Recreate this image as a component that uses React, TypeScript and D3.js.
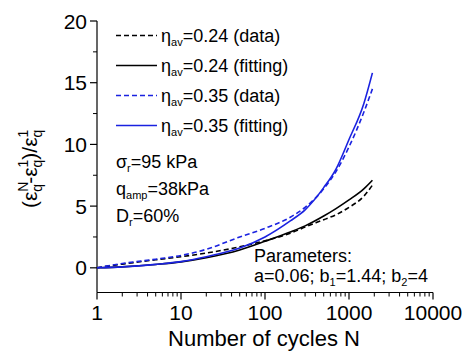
import React from "react";
import * as d3 from "d3";

const cycles = [1, 2, 5, 10, 20, 50, 100, 200, 300, 500, 700, 1000, 1500, 1900];
const blackData = [0, 0.3, 0.65, 0.9, 1.2, 1.7, 2.2, 2.8, 3.3, 3.9, 4.3, 4.9, 5.8, 6.7];
const blackFit = [0, 0.08, 0.27, 0.48, 0.82, 1.45, 2.15, 2.9, 3.4, 4.2, 4.8, 5.5, 6.4, 7.1];
const blueData = [0, 0.35, 0.7, 1.0, 1.5, 2.5, 3.2, 4.1, 4.9, 6.4, 7.8, 9.8, 12.6, 14.5];
const blueFit = [0, 0.08, 0.28, 0.5, 0.9, 1.6, 2.5, 3.8, 4.7, 6.5, 8.0, 10.4, 13.3, 15.8];

const yMajor = [0, 5, 10, 15, 20];
const yMinor = [2.5, 7.5, 12.5, 17.5];
const xMajor = [1, 10, 100, 1000, 10000];
const xMajorLabels = ["1", "10", "100", "1000", "10000"];

const legendItems = [
  { val: "=0.24 (data)", color: "#000", dash: "5,3" },
  { val: "=0.24 (fitting)", color: "#000", dash: "" },
  { val: "=0.35 (data)", color: "#1a22e0", dash: "5,3" },
  { val: "=0.35 (fitting)", color: "#1a22e0", dash: "" },
];

const FONT = "'Liberation Sans', Arial, sans-serif";

export default function App() {
  const x = d3.scaleLog().domain([1, 10000]).range([97, 433]);
  const y = d3.scaleLinear().domain([-2, 20]).range([292.5, 21]);
  const xMinor: number[] = [];
  for (let d = 1; d < 10000; d *= 10) for (let k = 2; k <= 9; k++) xMinor.push(d * k);

  const line = (vals: number[]) =>
    d3
      .line<number>()
      .x((_, i) => x(cycles[i]))
      .y((v) => y(v))
      .curve(d3.curveMonotoneX)(vals) || "";

  const series = [
    { vals: blackData, color: "#000", dash: "5,3" },
    { vals: blackFit, color: "#000", dash: "" },
    { vals: blueData, color: "#1a22e0", dash: "5,3" },
    { vals: blueFit, color: "#1a22e0", dash: "" },
  ];

  const x0 = x(1);
  const yb = y(-2);

  return (
    <svg width={466} height={354} style={{ position: "absolute", left: 0, top: 0 }} fontFamily={FONT}>
      <rect width={466} height={354} fill="#fff" />
      {/* axes */}
      <line x1={x0} x2={x0} y1={y(20)} y2={yb} stroke="#000" strokeWidth={1.2} />
      <line x1={x0} x2={x(10000)} y1={yb} y2={yb} stroke="#000" strokeWidth={1.2} />
      {yMajor.map((v) => (
        <g key={"ym" + v}>
          <line x1={x0 - 7} x2={x0} y1={y(v)} y2={y(v)} stroke="#000" strokeWidth={1.2} />
          <text x={x0 - 10} y={y(v) + 7.5} fontSize={21} textAnchor="end">
            {v}
          </text>
        </g>
      ))}
      {yMinor.map((v) => (
        <line key={"yn" + v} x1={x0 - 4} x2={x0} y1={y(v)} y2={y(v)} stroke="#000" strokeWidth={1} />
      ))}
      {xMajor.map((v, i) => (
        <g key={"xm" + v}>
          <line x1={x(v)} x2={x(v)} y1={yb} y2={yb + 7} stroke="#000" strokeWidth={1.2} />
          <text x={x(v)} y={320} fontSize={21} textAnchor="middle">
            {xMajorLabels[i]}
          </text>
        </g>
      ))}
      {xMinor.map((v) => (
        <line key={"xn" + v} x1={x(v)} x2={x(v)} y1={yb} y2={yb + 4} stroke="#000" strokeWidth={1} />
      ))}
      {/* curves */}
      {series.map((s, i) => (
        <path
          key={"s" + i}
          d={line(s.vals)}
          fill="none"
          stroke={s.color}
          strokeWidth={1.6}
          strokeDasharray={s.dash || undefined}
        />
      ))}
      {/* legend */}
      {legendItems.map((it, i) => {
        const ly = 35.5 + i * 30;
        return (
          <g key={"lg" + i}>
            <line x1={116} x2={157} y1={ly} y2={ly} stroke={it.color} strokeWidth={1.6} strokeDasharray={it.dash || undefined} />
            <text x={161} y={ly + 6.5} fontSize={18}>
              η<tspan fontSize={11} dy={4}>av</tspan>
              <tspan dy={-4}>{it.val}</tspan>
            </text>
          </g>
        );
      })}
      {/* annotations */}
      <text x={116} y={168} fontSize={18}>
        σ<tspan fontSize={11} dy={4}>r</tspan>
        <tspan dy={-4}>=95 kPa</tspan>
      </text>
      <text x={116} y={195} fontSize={18}>
        q<tspan fontSize={11} dy={4}>amp</tspan>
        <tspan dy={-4}>=38kPa</tspan>
      </text>
      <text x={116} y={222} fontSize={18}>
        D<tspan fontSize={11} dy={4}>r</tspan>
        <tspan dy={-4}>=60%</tspan>
      </text>
      <text x={254} y={262} fontSize={18}>
        Parameters:
      </text>
      <text x={254} y={282} fontSize={18}>
        a=0.06; b<tspan fontSize={11} dy={4}>1</tspan>
        <tspan dy={-4}>=1.44; b</tspan>
        <tspan fontSize={11} dy={4}>2</tspan>
        <tspan dy={-4}>=4</tspan>
      </text>
      {/* axis titles */}
      <text x={264} y={346} fontSize={22} textAnchor="middle">
        Number of cycles N
      </text>
      <g transform="translate(37,208) rotate(-90)">
        <text x={0} y={0} fontSize={21}>
          (ε<tspan fontSize={14} dy={-9}>N</tspan>
          <tspan fontSize={14} dx={-10.1} dy={14}>q</tspan>
          <tspan dy={-5}>-ε</tspan>
          <tspan fontSize={14} dy={-9}>1</tspan>
          <tspan fontSize={14} dx={-7.8} dy={14}>q</tspan>
          <tspan dy={-5}>)/ε</tspan>
          <tspan fontSize={14} dy={-9}>1</tspan>
          <tspan fontSize={14} dx={-7.8} dy={14}>q</tspan>
        </text>
      </g>
    </svg>
  );
}
